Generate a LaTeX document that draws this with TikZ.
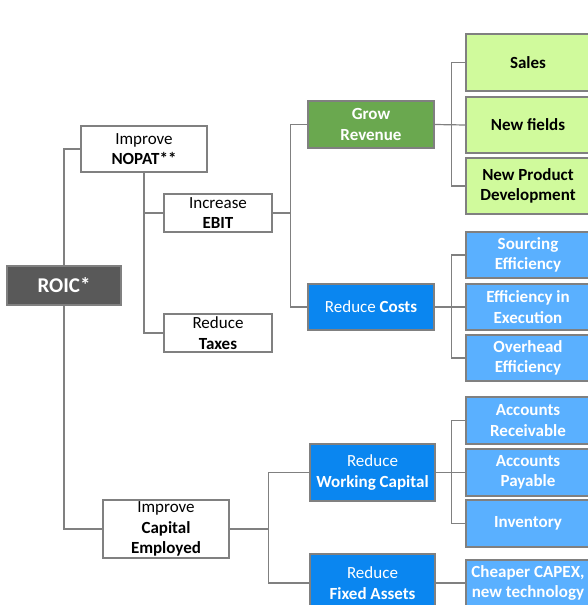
\documentclass[tikz,border=0pt]{standalone}
\usepackage{fontspec}
\setmainfont{Carlito}
\usetikzlibrary{positioning, calc}
\definecolor{linegray}{RGB}{128,128,128}
\definecolor{roicgray}{RGB}{89,89,89}
\definecolor{growgreen}{RGB}{106,168,79}
\definecolor{leafgreen}{RGB}{208,250,156}
\definecolor{costblue}{RGB}{10,134,240}
\definecolor{leafblue}{RGB}{90,176,255}

\begin{document}
\begin{tikzpicture}[
        x=1pt, y=-1pt,
        box/.style={rectangle, draw=linegray, line width=1.2pt, inner sep=0pt, align=center, font=\fontsize{17}{20.5}\selectfont},
        plainbox/.style={box, fill=white, text=black},
        roicbox/.style={box, fill=roicgray, text=white, font=\fontsize{21}{24}\selectfont\bfseries},
        growbox/.style={box, fill=growgreen, text=white},
        costbox/.style={box, fill=costblue, text=white},
        greenleaf/.style={box, fill=leafgreen, text=black, font=\fontsize{17}{20.5}\selectfont\bfseries, minimum width=124pt},
        blueleaf/.style={box, fill=leafblue, text=white, font=\fontsize{17}{20.5}\selectfont\bfseries, minimum width=124pt},
        link/.style={draw=linegray, line width=1.2pt}
    ]
        \clip (0,0) rectangle (588,605);
        \fill[white] (0,0) rectangle (588,605);

        % left part
        \node[roicbox, minimum width=114pt, minimum height=39pt] (roic) at (64,285.5) {ROIC*};
        \node[plainbox, minimum width=126pt, minimum height=46pt] (nopat) at (144,149) {Improve\\\textbf{NOPAT**}};
        \node[plainbox, minimum width=108pt, minimum height=38pt] (ebit) at (218,213) {Increase\\\textbf{EBIT}};
        \node[plainbox, minimum width=108pt, minimum height=38pt] (taxes) at (218,333) {Reduce\\\textbf{Taxes}};
        \node[plainbox, minimum width=126pt, minimum height=58pt] (capemp) at (166,529) {Improve\\\textbf{Capital}\\\textbf{Employed}};

        % middle column
        \node[growbox, minimum width=126pt, minimum height=47pt] (grow) at (371,124.5) {\textbf{Grow}\\\textbf{Revenue}};
        \node[costbox, minimum width=126pt, minimum height=46pt] (costs) at (371,307) {Reduce \textbf{Costs}};
        \node[costbox, minimum width=125pt, minimum height=57pt] (workcap) at (372.5,472.5) {Reduce\\\textbf{Working Capital}};
        \node[costbox, minimum width=125pt, minimum height=58pt] (fixed) at (372.5,583) {Reduce\\\textbf{Fixed Assets}};

        % right column
        \node[greenleaf, minimum height=57pt] (sales) at (528,62.5) {Sales};
        \node[greenleaf, minimum height=56pt] (fields) at (528,125) {New fields};
        \node[greenleaf, minimum height=56pt] (newprod) at (528,186) {New Product\\Development};
        \node[blueleaf, minimum height=46pt] (sourcing) at (528,255) {Sourcing\\Efficiency};
        \node[blueleaf, minimum height=46pt] (execution) at (528,307) {Efficiency in\\Execution};
        \node[blueleaf, minimum height=46pt] (overhead) at (528,358) {Overhead\\Efficiency};
        \node[blueleaf, minimum height=47pt] (receivable) at (528,420.5) {Accounts\\Receivable};
        \node[blueleaf, minimum height=47pt] (payable) at (528,472.5) {Accounts\\Payable};
        \node[blueleaf, minimum height=47pt] (inventory) at (528,523.5) {Inventory};
        \node[blueleaf, minimum height=46pt] (capex) at (528,583) {Cheaper CAPEX,\\new technology};

        % connectors
        \draw[link] (nopat.west) -| (roic.north);
        \draw[link] (capemp.west) -| (roic.south);
        \draw[link] (nopat.south) |- (ebit.west);
        \draw[link] (nopat.south) |- (taxes.west);
        \draw[link] (ebit.east) -- ++(18,0) |- (grow.west);
        \draw[link] (ebit.east) -- ++(18,0) |- (costs.west);
        \draw[link] (grow.east) -- ++(17,0) |- (sales.west);
        \draw[link] (grow.east) -- (fields.west);
        \draw[link] (grow.east) -- ++(17,0) |- (newprod.west);
        \draw[link] (costs.east) -- ++(17,0) |- (sourcing.west);
        \draw[link] (costs.east) -- (execution.west);
        \draw[link] (costs.east) -- ++(17,0) |- (overhead.west);
        \draw[link] (capemp.east) -- ++(39,0) |- (workcap.west);
        \draw[link] (capemp.east) -- ++(39,0) |- (fixed.west);
        \draw[link] (workcap.east) -- ++(16,0) |- (receivable.west);
        \draw[link] (workcap.east) -- (payable.west);
        \draw[link] (workcap.east) -- ++(16,0) |- (inventory.west);
        \draw[link] (fixed.east) -- (capex.west);
    \end{tikzpicture}
\end{document}
